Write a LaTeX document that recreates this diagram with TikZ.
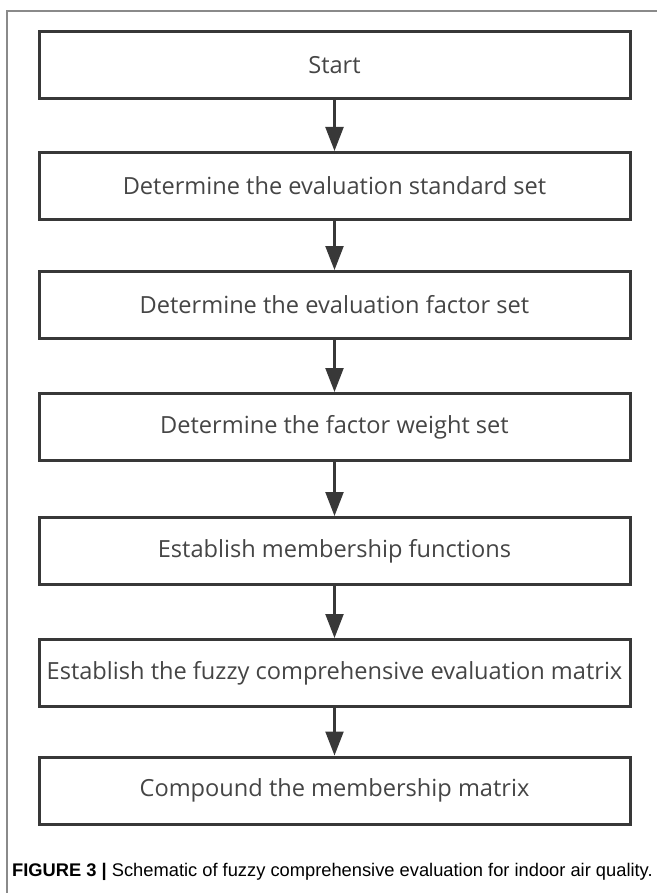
\documentclass[tikz,border=0pt]{standalone}
\usepackage{fontspec}
\setmainfont{Open Sans}
\newfontfamily\capfont{Liberation Sans}
\usetikzlibrary{arrows.meta}
\definecolor{boxline}{HTML}{383838}
\definecolor{boxtext}{HTML}{454545}
\definecolor{framegray}{HTML}{8A8A8A}
\begin{document}
\begin{tikzpicture}[x=1pt,y=-1pt,
  stepbox/.style={draw=boxline,line width=3pt,minimum width=591pt,minimum height=67pt,
    inner sep=0pt,text=boxtext,font=\fontsize{23.6}{26}\selectfont},
  flow/.style={draw=boxline,line width=2.2pt,-{Triangle[length=24pt,width=18pt]}}]
\useasboundingbox (0,0) rectangle (657,893);
\draw[framegray,line width=1.3pt] (7,893) -- (7,11) -- (657,11);
\node[stepbox] (s1) at (334.5,65.5) {Start};
\node[stepbox] (s2) at (334.5,186) {Determine the evaluation standard set};
\node[stepbox] (s3) at (334.5,305) {Determine the evaluation factor set};
\node[stepbox] (s4) at (334.5,427) {Determine the factor weight set};
\node[stepbox] (s5) at (334.5,551) {Establish membership functions};
\node[stepbox] (s6) at (334.5,673) {Establish the fuzzy comprehensive evaluation matrix};
\node[stepbox] (s7) at (334.5,790.5) {Compound the membership matrix};
\foreach \a/\b in {s1/s2,s2/s3,s3/s4,s4/s5,s5/s6,s6/s7}
  \draw[flow] (\a.south) -- (\b.north);
\node[anchor=west,inner sep=0pt,font=\capfont\fontsize{18.3}{21}\selectfont] (cap) at (12,872)
  {\textbf{FIGURE 3 |} Schematic of fuzzy comprehensive evaluation for indoor air quality.};
\end{tikzpicture}
\end{document}
